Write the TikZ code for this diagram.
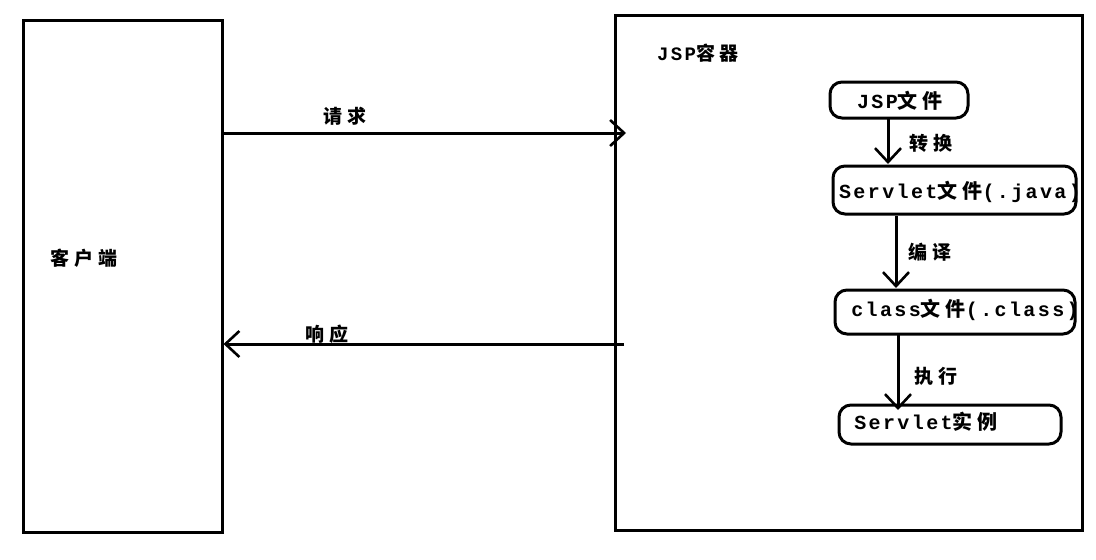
\documentclass[tikz,border=0pt]{standalone}
\usepackage{fontspec}
\usetikzlibrary{arrows.meta}
\newfontfamily\cjk{Noto Sans CJK SC}[LetterSpace=25]
\newfontfamily\lat{Liberation Mono}[LetterSpace=12]
\newcommand{\mixtxt}[1]{{\fontsize{20pt}{23pt}\selectfont\bfseries #1}}
\tikzset{
  frame/.style={draw, line width=3pt, inner sep=0pt},
  fbox/.style={draw, line width=3pt, rounded corners=12pt, inner sep=0pt},
  lbl/.style={inner sep=0pt, font=\fontsize{19pt}{22pt}\selectfont\bfseries\cjk},
  arr/.style={line width=3pt, -{Straight Barb[length=14pt, width=26pt, line width=2.6pt]}}
}
\begin{document}
\begin{tikzpicture}[x=1pt,y=-1pt]
\useasboundingbox (0,0) rectangle (1096,560);
% containers
\node[frame, minimum width=199pt, minimum height=512pt] (client) at (122.5,276) {};
\node[frame, minimum width=467pt, minimum height=515pt] (container) at (848.5,272.5) {};
\node[lbl] (clientlbl) at (84,258) {客户端};
\node[lbl, font=\fontsize{19pt}{22pt}\selectfont\bfseries] (contlbl) at (698,53) {\lat JSP\cjk 容器};
% inner boxes
\node[fbox, minimum width=138pt, minimum height=36pt] (jsp) at (899,100) {};
\node[inner sep=0pt] (jsptxt) at (900,101) {\mixtxt{\lat JSP\cjk 文件}};
\node[fbox, minimum width=243pt, minimum height=48pt] (servlet) at (954.5,190) {};
\node[inner sep=0pt] (servlettxt) at (960,192) {\mixtxt{\lat Servlet\cjk 文件\lat(.java)}};
\node[fbox, minimum width=240pt, minimum height=44pt] (cls) at (955,312) {};
\node[inner sep=0pt] (clstxt) at (965,310) {\mixtxt{\lat class\cjk 文件\lat(.class)}};
\node[fbox, minimum width=222pt, minimum height=39pt] (inst) at (950,424.5) {};
\node[inner sep=0pt] (insttxt) at (926,422) {\mixtxt{\lat Servlet\cjk 实例}};
% coordinates
\coordinate (reqend) at (626,133);
\coordinate (respstart) at (624,344);
\coordinate (a1s) at (888,118);
\coordinate (a1e) at (888,164);
\coordinate (a2s) at (896,216);
\coordinate (a2e) at (896,288);
\coordinate (a3s) at (898,334);
\coordinate (a3e) at (898,410);
% request / response
\draw[arr] (client.east |- reqend) -- (reqend);
\node[lbl] (reqlbl) at (345,116) {请求};
\draw[arr] (respstart) -- (client.east |- respstart);
\node[lbl] (resplbl) at (327,334) {响应};
% inner arrows
\draw[arr] (a1s) -- (a1e);
\node[lbl] (l1) at (931,143) {转换};
\draw[arr] (a2s) -- (a2e);
\node[lbl] (l2) at (930,252) {编译};
\draw[arr] (a3s) -- (a3e);
\node[lbl] (l3) at (936,376) {执行};
\end{tikzpicture}
\end{document}
